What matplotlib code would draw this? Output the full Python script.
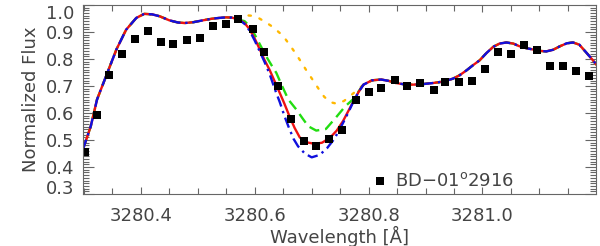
import numpy as np
import matplotlib.pyplot as plt
from matplotlib.ticker import MultipleLocator

# observed spectrum (squares)
obs_wave = [3280.302, 3280.323, 3280.344, 3280.367, 3280.390, 3280.413, 3280.436,
            3280.457, 3280.481, 3280.503, 3280.526, 3280.549, 3280.571, 3280.597,
            3280.617, 3280.641, 3280.663, 3280.686, 3280.708, 3280.731, 3280.753,
            3280.777, 3280.800, 3280.822, 3280.846, 3280.868, 3280.890, 3280.914,
            3280.935, 3280.959, 3280.982, 3281.004, 3281.027, 3281.050, 3281.073,
            3281.095, 3281.118, 3281.141, 3281.164, 3281.187]
obs_flux = [0.455, 0.591, 0.739, 0.819, 0.873, 0.905, 0.862,
            0.856, 0.869, 0.876, 0.921, 0.928, 0.949, 0.910,
            0.827, 0.700, 0.579, 0.497, 0.478, 0.504, 0.537,
            0.650, 0.677, 0.694, 0.724, 0.700, 0.712, 0.687,
            0.713, 0.716, 0.717, 0.764, 0.825, 0.820, 0.850,
            0.835, 0.774, 0.774, 0.756, 0.736]

# synthetic spectra: shared wings
wing_l_wave = [3280.298, 3280.312, 3280.323, 3280.341, 3280.357, 3280.374, 3280.392,
               3280.406, 3280.420, 3280.433, 3280.450, 3280.465, 3280.477, 3280.492,
               3280.509, 3280.525, 3280.538, 3280.550, 3280.560, 3280.573]
wing_l_flux = [0.464, 0.551, 0.650, 0.748, 0.835, 0.908, 0.952,
               0.967, 0.965, 0.958, 0.943, 0.935, 0.933, 0.936,
               0.943, 0.949, 0.952, 0.954, 0.953, 0.945]
wing_r_wave = [3280.791, 3280.806, 3280.822, 3280.835, 3280.848, 3280.863, 3280.878,
               3280.895, 3280.913, 3280.930, 3280.948, 3280.960, 3280.972, 3280.984,
               3280.995, 3281.007, 3281.019, 3281.030, 3281.042, 3281.054, 3281.065,
               3281.077, 3281.089, 3281.100, 3281.112, 3281.124, 3281.136, 3281.148,
               3281.159, 3281.170, 3281.183, 3281.192, 3281.200]
wing_r_flux = [0.705, 0.721, 0.724, 0.719, 0.711, 0.706, 0.705,
               0.707, 0.711, 0.716, 0.727, 0.740, 0.758, 0.778,
               0.795, 0.822, 0.845, 0.857, 0.861, 0.857, 0.847,
               0.840, 0.835, 0.830, 0.828, 0.834, 0.847, 0.858,
               0.861, 0.853, 0.822, 0.800, 0.779]

# line cores of the different models
red_wave = [3280.582, 3280.591, 3280.600, 3280.609, 3280.617, 3280.626, 3280.635,
            3280.644, 3280.652, 3280.661, 3280.670, 3280.679, 3280.690, 3280.705,
            3280.718, 3280.732, 3280.744, 3280.755, 3280.765, 3280.775, 3280.783]
red_flux = [0.933, 0.910, 0.875, 0.835, 0.797, 0.760, 0.717,
            0.674, 0.635, 0.588, 0.545, 0.510, 0.492, 0.486,
            0.490, 0.508, 0.535, 0.570, 0.610, 0.650, 0.680]

blue_wave = [3280.582, 3280.591, 3280.600, 3280.609, 3280.617, 3280.626, 3280.635,
             3280.644, 3280.652, 3280.659, 3280.668, 3280.676, 3280.688, 3280.700,
             3280.714, 3280.727, 3280.740, 3280.755, 3280.765, 3280.775, 3280.783]
blue_flux = [0.930, 0.905, 0.868, 0.827, 0.790, 0.745, 0.690,
             0.640, 0.590, 0.551, 0.505, 0.477, 0.450, 0.436,
             0.445, 0.470, 0.505, 0.563, 0.605, 0.650, 0.680]

green_wave = [3280.582, 3280.591, 3280.600, 3280.610, 3280.620, 3280.630, 3280.638,
              3280.648, 3280.659, 3280.673, 3280.684, 3280.694, 3280.708, 3280.725,
              3280.742, 3280.759, 3280.775, 3280.783]
green_flux = [0.940, 0.922, 0.890, 0.850, 0.810, 0.775, 0.748,
              0.700, 0.650, 0.613, 0.580, 0.551, 0.535, 0.541,
              0.582, 0.625, 0.655, 0.682]

orange_wave = [3280.582, 3280.595, 3280.608, 3280.620, 3280.632, 3280.644, 3280.653,
               3280.661, 3280.670, 3280.679, 3280.690, 3280.702, 3280.712, 3280.722,
               3280.733, 3280.745, 3280.757, 3280.766, 3280.776, 3280.783]
orange_flux = [0.962, 0.960, 0.950, 0.935, 0.918, 0.896, 0.876,
               0.853, 0.826, 0.797, 0.760, 0.722, 0.690, 0.660,
               0.640, 0.634, 0.645, 0.660, 0.678, 0.690]

y_ticks = [0.3, 0.4, 0.5, 0.6, 0.7, 0.8, 0.9, 1.0]
x_ticks = [3280.4, 3280.6, 3280.8, 3281.0]
x_ticklabels = ['3280.4', '3280.6', '3280.8', '3281.0']

def full(core_w, core_f):
    w = np.concatenate([wing_l_wave, core_w, wing_r_wave])
    f = np.concatenate([wing_l_flux, core_f, wing_r_flux])
    return w, f

txt = '#444444'
plt.rcParams['font.family'] = 'DejaVu Sans'

fig = plt.figure(figsize=(6, 2.46), dpi=100)
ax = fig.add_axes([0.138, 0.211, 0.855, 0.769])

lw = 1.7
w, f = full(orange_wave, orange_flux)
ax.plot(w, f, color='#ffb800', lw=lw, linestyle=(0, (1, 3.8)), dash_capstyle='round')
w, f = full(green_wave, green_flux)
ax.plot(w, f, color='#22dd11', lw=lw, linestyle=(0, (4.5, 2.5)))
w, f = full(red_wave, red_flux)
ax.plot(w, f, color='#ee1111', lw=lw)
w, f = full(blue_wave, blue_flux)
ax.plot(w, f, color='#1010dd', lw=lw, linestyle=(0, (4.5, 2, 1, 2)))

ax.plot(obs_wave, obs_flux, 's', color='black', ms=5.5, mew=0)
ax.plot([3280.8195], [0.35], 's', color='black', ms=5.5, mew=0)
ax.text(3280.847, 0.35, r'BD$-$01$^{\rm o}$2916', fontsize=13, color=txt,
        va='center', ha='left')

ax.set_xlim(3280.298, 3281.199)
ax.set_ylim(0.3, 1.0)
ax.set_xticks(x_ticks, x_ticklabels)
ax.xaxis.set_minor_locator(MultipleLocator(0.05))
ax.set_yticks(y_ticks, ['%.1f' % v for v in y_ticks])
ax.yaxis.set_minor_locator(MultipleLocator(0.01))
ax.tick_params(which='both', direction='in', top=True, right=True,
               colors='#666666', labelcolor=txt, labelsize=13, width=0.8)
ax.tick_params(axis='x', which='major', length=5, pad=9)
ax.tick_params(axis='x', which='minor', length=4)
ax.tick_params(axis='y', which='major', length=8, pad=6)
ax.tick_params(axis='y', which='minor', length=4)
for s in ax.spines.values():
    s.set_color('#666666')
    s.set_linewidth(0.8)

# keep the end labels inside the figure like the original
yt = ax.yaxis.get_major_ticks()
yt[-1].label1.set_va('top')
yt[0].label1.set_va('baseline')

ax.set_xlabel('Wavelength [Å]', fontsize=13, color=txt, labelpad=1)
ax.set_ylabel('Normalized Flux', fontsize=13, color=txt, labelpad=4)

fig.savefig('out.png', dpi=100)
